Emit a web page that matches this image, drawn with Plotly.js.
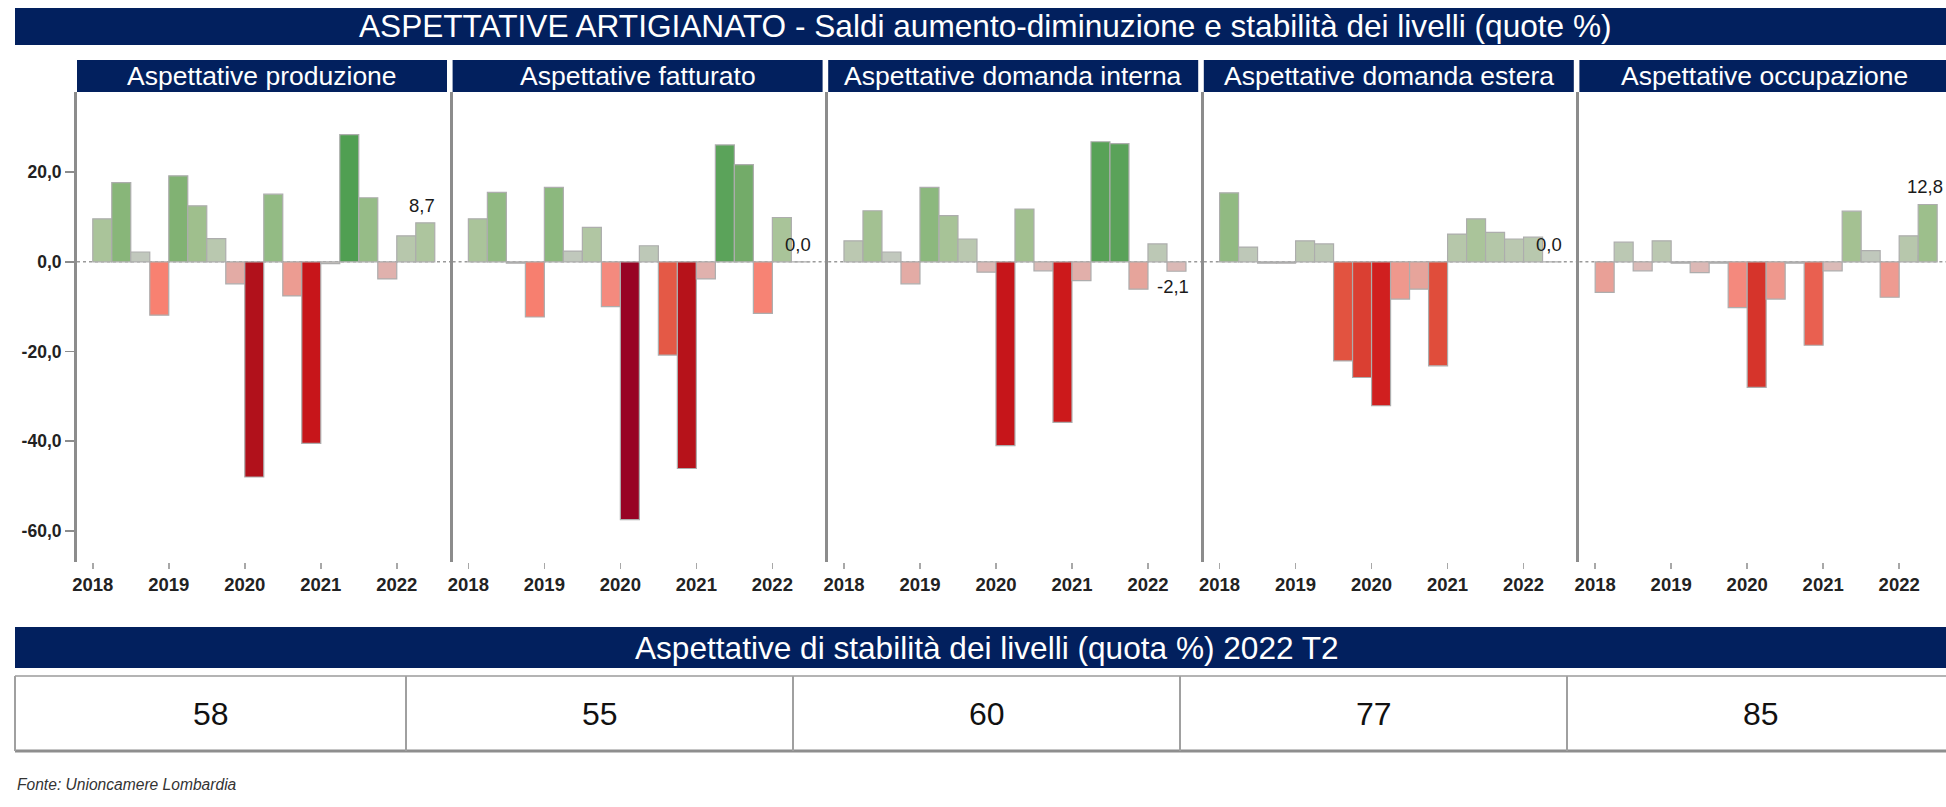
<!DOCTYPE html>
<html>
<head>
<meta charset="utf-8">
<script src="https://cdn.plot.ly/plotly-3.0.1.min.js"></script>
<style>
html,body{margin:0;padding:0;background:#fff;}
#chart{width:1946px;height:807px;}
</style>
</head>
<body>
<div id="chart"></div>
<script>
// ---------------- DATA ----------------
const quarters = ['2018 T1','2018 T2','2018 T3','2018 T4','2019 T1','2019 T2','2019 T3','2019 T4',
                  '2020 T1','2020 T2','2020 T3','2020 T4','2021 T1','2021 T2','2021 T3','2021 T4',
                  '2022 T1','2022 T2'];
const yearLabels = ['2018','2019','2020','2021','2022'];
const panelTitles = ['Aspettative produzione','Aspettative fatturato','Aspettative domanda interna',
                     'Aspettative domanda estera','Aspettative occupazione'];
const produzione     = [9.6, 17.7, 2.2, -11.9, 19.2, 12.5, 5.2, -4.9, -48.0, 15.1, -7.6, -40.5, -0.4, 28.4, 14.3, -3.8, 5.8, 8.7];
const fatturato      = [9.6, 15.5, -0.3, -12.3, 16.6, 2.4, 7.7, -10.0, -57.5, 3.6, -20.8, -46.1, -3.8, 26.1, 21.7, -11.5, 9.9, 0.0];
const domandaInterna = [4.7, 11.4, 2.2, -4.9, 16.6, 10.3, 5.1, -2.3, -41.0, 11.8, -2.0, -35.8, -4.2, 26.8, 26.4, -6.1, 4.0, -2.1];
const domandaEstera  = [15.4, 3.3, -0.3, -0.3, 4.7, 4.0, -22.1, -25.8, -32.1, -8.3, -6.1, -23.2, 6.2, 9.6, 6.6, 5.1, 5.5, 0.0];
const occupazione    = [-6.8, 4.4, -2.0, 4.7, -0.3, -2.4, -0.3, -10.2, -28.0, -8.3, -0.3, -18.6, -2.0, 11.3, 2.5, -7.9, 5.8, 12.8];
const stabilita = [58, 55, 60, 77, 85];
const yTickValues = [-60, -40, -20, 0, 20];
const mainTitle = 'ASPETTATIVE ARTIGIANATO - Saldi aumento-diminuzione e stabilità dei livelli (quote %)';
const tableTitle = 'Aspettative di stabilità dei livelli (quota %) 2022 T2';
const sourceNote = 'Fonte: Unioncamere Lombardia';

// ---------------- STYLE / LAYOUT ----------------
const W = 1946, H = 807;
const FONT = 'Liberation Sans, Arial, sans-serif';
const NAVY = '#02205e';
const px = x => x / W;
const py = y => 1 - y / H;

const series = [produzione, fatturato, domandaInterna, domandaEstera, occupazione];
const fmt = v => v.toFixed(1).replace('.', ',');

// diverging colour scale (value -> colour)
const cmin = -60, cmax = 30;
const colorStops = [
  [-60, '#8e0022'], [-57, '#9a0424'], [-47, '#b3121a'], [-41, '#c6151a'], [-35, '#cd1a1b'],
  [-31.7, '#d0201f'], [-28, '#d6342b'], [-25, '#dc4334'], [-22, '#e25440'], [-20.5, '#e55a48'],
  [-18, '#ea6253'], [-12, '#f88070'], [-10, '#f48a7e'], [-8, '#ee9a90'], [-6, '#e6a49c'],
  [-4, '#e0b0ac'], [-2, '#dbbab7'], [0, '#c8c9c3'], [2.5, '#c0c8bc'], [5, '#bac8b0'],
  [9, '#acc59d'], [12, '#a1c08f'], [15, '#93bb84'], [19, '#82b374'], [22, '#71aa68'],
  [26, '#5ca35a'], [30, '#489c4d']
];
const colorscale = colorStops.map(s => [(s[0] - cmin) / (cmax - cmin), s[1]]);

const panelStep = 375.6, panelLeft0 = 77, pxPerUnit = 19, xStart = -1.33;
const yTop = 92, yBottom = 561.7;
const yRange = [-66.9, 37.9];

const traces = [];
const layout = {
  width: W, height: H,
  margin: {l: 0, r: 0, t: 0, b: 0},
  paper_bgcolor: '#ffffff', plot_bgcolor: 'rgba(0,0,0,0)',
  showlegend: false,
  bargap: 0,
  font: {family: FONT, color: '#222'},
  shapes: [], annotations: []
};

const xIdx = quarters.map((q, i) => i);
const yearTickPos = yearLabels.map((y, k) => k * 4 - 0.5);

series.forEach((vals, i) => {
  const n = i + 1;
  const sfx = n === 1 ? '' : String(n);
  const L = panelLeft0 + panelStep * i;
  const R = Math.min(L + panelStep, W);
  traces.push({
    type: 'bar',
    x: xIdx, y: vals,
    customdata: quarters,
    hovertemplate: '%{customdata}: %{y:.1f}<extra></extra>',
    xaxis: 'x' + sfx, yaxis: 'y' + sfx,
    width: 1,
    marker: {color: vals, colorscale: colorscale, cmin: cmin, cmax: cmax,
             line: {color: '#adadad', width: 1.2}},
    cliponaxis: false
  });
  // label on the latest quarter
  const last = vals.length - 1;
  const lv = vals[last];
  layout.annotations.push({
    xref: 'x' + sfx, yref: 'y' + sfx, x: xIdx[last], y: lv,
    xanchor: 'center', yanchor: lv >= 0 ? 'bottom' : 'top',
    yshift: lv >= 0 ? 5 : -3, xshift: -3,
    showarrow: false, text: fmt(lv),
    font: {family: FONT, size: 18.5, color: '#1a1a1a'}
  });
  layout['xaxis' + sfx] = {
    domain: [px(L), px(R)],
    range: [xStart, xStart + (R - L) / pxPerUnit],
    anchor: 'y' + sfx,
    showgrid: false, zeroline: false, showline: false,
    ticks: 'outside', ticklen: 6, tickwidth: 1.5, tickcolor: '#a8a8a8',
    tickmode: 'array', tickvals: yearTickPos, ticktext: yearLabels,
    tickfont: {family: FONT, size: 18.5, color: '#222', weight: 'bold'},
    fixedrange: true
  };
  const ya = {
    domain: [py(yBottom), py(yTop)],
    range: yRange,
    anchor: 'x' + sfx,
    showgrid: false, zeroline: false,
    showline: true, linecolor: '#8c8c8c', linewidth: 3,
    fixedrange: true
  };
  if (i === 0) {
    Object.assign(ya, {
      ticks: 'outside', ticklen: 9, tickwidth: 1.5, tickcolor: '#8c8c8c',
      tickmode: 'array', tickvals: yTickValues, ticktext: yTickValues.map(fmt),
      tickfont: {family: FONT, size: 17.5, color: '#222', weight: 'bold'}
    });
  } else {
    Object.assign(ya, {ticks: '', showticklabels: false});
  }
  layout['yaxis' + sfx] = ya;

  // dotted zero line
  layout.shapes.push({
    type: 'line', layer: 'below',
    xref: 'x' + sfx + ' domain', yref: 'y' + sfx,
    x0: 0, x1: 1, y0: 0, y1: 0,
    line: {color: '#9a9a9a', width: 1.5, dash: 'dot'}
  });
  // panel header
  layout.shapes.push({
    type: 'rect', xref: 'paper', yref: 'paper', layer: 'below',
    x0: px(L), x1: px(Math.min(L + 370, W)), y0: py(92), y1: py(60),
    fillcolor: NAVY, line: {width: 0}
  });
  layout.annotations.push({
    xref: 'paper', yref: 'paper', x: px(L + 185), y: py(76),
    xanchor: 'center', yanchor: 'middle', showarrow: false,
    text: panelTitles[i], font: {family: FONT, size: 26.5, color: '#ffffff'}
  });
});

// main title banner
layout.shapes.push({
  type: 'rect', xref: 'paper', yref: 'paper', layer: 'below',
  x0: px(15), x1: 1, y0: py(45), y1: py(8),
  fillcolor: NAVY, line: {width: 0}
});
layout.annotations.push({
  xref: 'paper', yref: 'paper', x: px(985.5), y: py(26.5),
  xanchor: 'center', yanchor: 'middle', showarrow: false,
  text: mainTitle, font: {family: FONT, size: 31.6, color: '#ffffff'}
});

// bottom table banner
layout.shapes.push({
  type: 'rect', xref: 'paper', yref: 'paper', layer: 'below',
  x0: px(15), x1: 1, y0: py(668), y1: py(627),
  fillcolor: NAVY, line: {width: 0}
});
layout.annotations.push({
  xref: 'paper', yref: 'paper', x: px(987.5), y: py(647.5),
  xanchor: 'center', yanchor: 'middle', showarrow: false,
  text: tableTitle, font: {family: FONT, size: 31.6, color: '#ffffff'}
});

// table cells
const rowTop = 676, rowBot = 751, cellLeft = 15, firstDiv = 406, cellW = 387;
const divs = [cellLeft].concat(stabilita.map((v, k) => firstDiv + cellW * k));
layout.shapes.push({type: 'line', xref: 'paper', yref: 'paper', x0: px(cellLeft), x1: 1,
  y0: py(rowTop), y1: py(rowTop), line: {color: '#b4b4b4', width: 2}});
layout.shapes.push({type: 'line', xref: 'paper', yref: 'paper', x0: px(cellLeft), x1: 1,
  y0: py(rowBot), y1: py(rowBot), line: {color: '#8e8e8e', width: 3}});
divs.forEach(d => {
  if (d < W) layout.shapes.push({type: 'line', xref: 'paper', yref: 'paper', x0: px(d), x1: px(d),
    y0: py(rowBot), y1: py(rowTop), line: {color: '#a0a0a0', width: 2}});
});
stabilita.forEach((v, k) => {
  const cx = (divs[k] + divs[k + 1]) / 2;
  layout.annotations.push({
    xref: 'paper', yref: 'paper', x: px(cx), y: py((rowTop + rowBot) / 2),
    xanchor: 'center', yanchor: 'middle', showarrow: false,
    text: String(v), font: {family: FONT, size: 32, color: '#111'}
  });
});

// source note
layout.annotations.push({
  xref: 'paper', yref: 'paper', x: px(15), y: py(784),
  xanchor: 'left', yanchor: 'middle', showarrow: false,
  text: '<i>' + sourceNote + '</i>', font: {family: FONT, size: 15.6, color: '#333'}
});

Plotly.newPlot('chart', traces, layout, {displayModeBar: false, staticPlot: true});
</script>
</body>
</html>
